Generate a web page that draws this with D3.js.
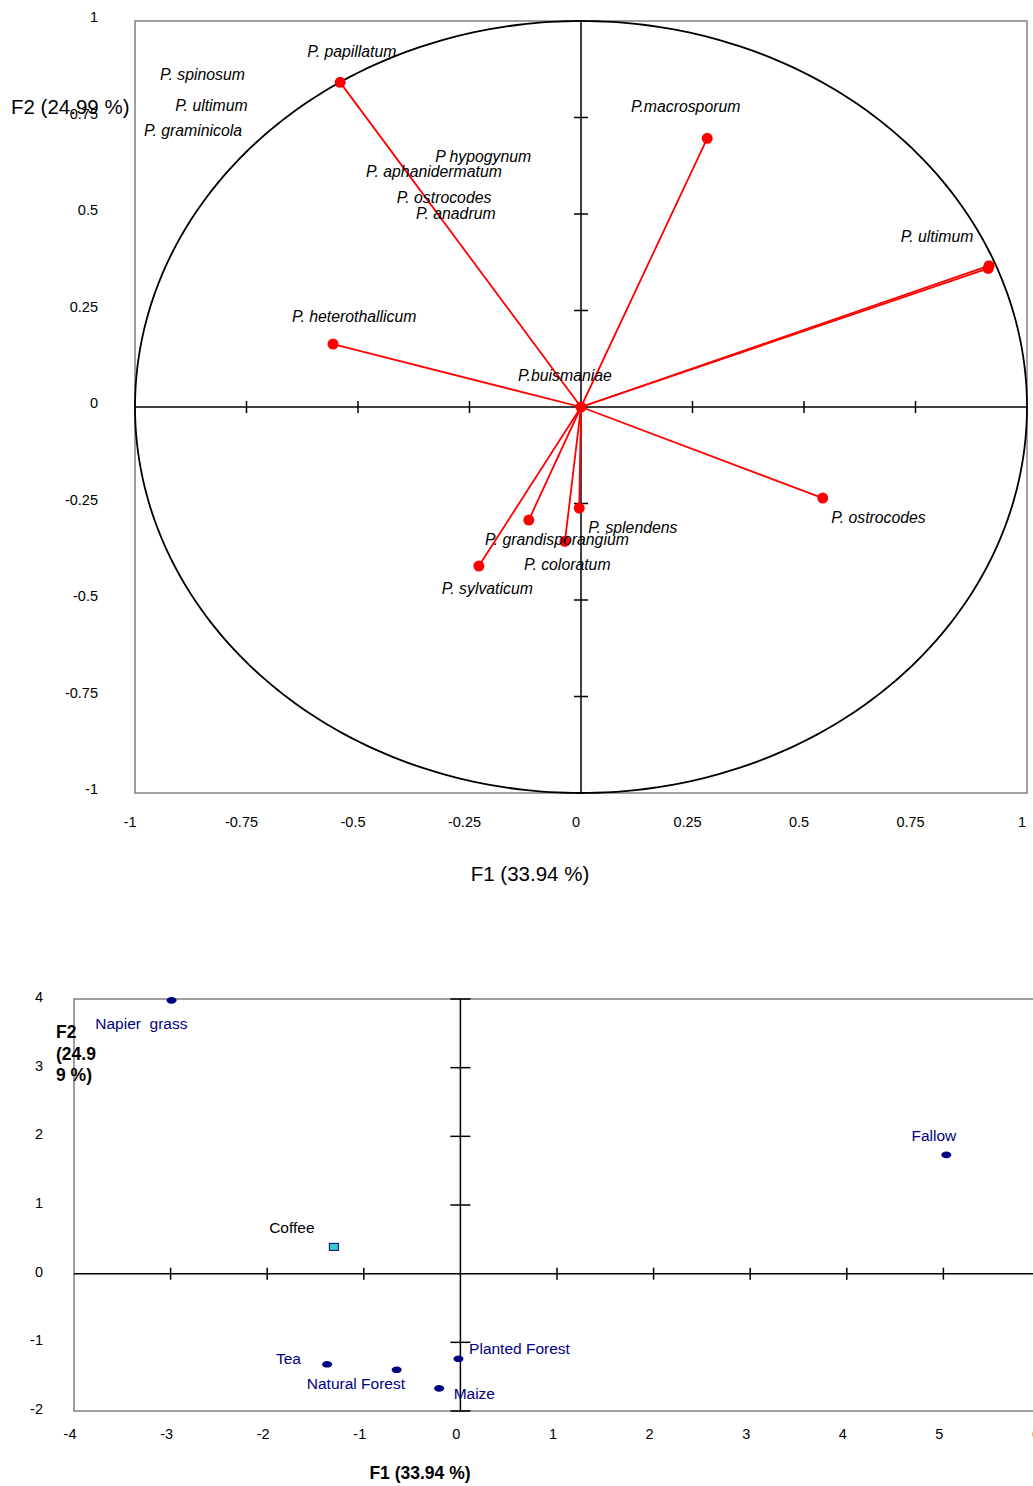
<!DOCTYPE html>
<html><head><meta charset="utf-8">
<script src="https://cdn.jsdelivr.net/npm/d3@7"></script>
<style>body{margin:0;background:#fff}svg{display:block;font-family:"Liberation Sans",Arial,sans-serif}</style>
</head><body>
<script>
// ---- Top chart: variables (correlation circle) ----
const vecNames = ["P. papillatum","P.macrosporum","P. ultimum","P. ultimum b","P. heterothallicum","P. ostrocodes","P. splendens","P. grandisporangium","P. coloratum","P. sylvaticum","P.buismaniae"];
const vecF1 = [-0.540, 0.283, 0.915, 0.913, -0.556, 0.542, -0.004, -0.117, -0.036, -0.229, 0.0];
const vecF2 = [0.841, 0.696, 0.366, 0.359, 0.163, -0.236, -0.262, -0.293, -0.348, -0.412, 0.0];
const varLabels = ["P. papillatum","P. spinosum","P. ultimum","P. graminicola","P.macrosporum","P hypogynum","P. aphanidermatum","P. ostrocodes","P. anadrum","P. ultimum","P. heterothallicum","P.buismaniae","P. ostrocodes","P. splendens","P. grandisporangium","P. coloratum","P. sylvaticum"];
const varLabelF1 = [-0.614,-0.944,-0.910,-0.980,0.112,-0.327,-0.482,-0.413,-0.370,0.717,-0.648,-0.141,0.561,0.016,-0.215,-0.128,-0.312];
const varLabelF2 = [0.908,0.846,0.768,0.701,0.763,0.634,0.595,0.528,0.486,0.427,0.220,0.067,-0.300,-0.326,-0.357,-0.422,-0.484];
const topTicks = [-1,-0.75,-0.5,-0.25,0,0.25,0.5,0.75,1];
const topTickLabels = ["-1","-0.75","-0.5","-0.25","0","0.25","0.5","0.75","1"];

// ---- Bottom chart: observations ----
const siteNames = ["Napier  grass","Fallow","Coffee","Tea","Natural Forest","Planted Forest","Maize"];
const siteF1 = [-2.99, 5.03, -1.31, -1.38, -0.66, -0.02, -0.22];
const siteF2 = [3.98, 1.73, 0.39, -1.32, -1.40, -1.24, -1.67];
const siteLabelF1 = [-3.78, 4.67, -1.98, -1.91, -1.59, 0.09, -0.07];
const siteLabelF2 = [3.57, 1.93, 0.59, -1.31, -1.68, -1.17, -1.82];
const botXTicks = [-4,-3,-2,-1,0,1,2,3,4,5,6];
const botYTicks = [-2,-1,0,1,2,3,4];

const svg = d3.select("body").append("svg").attr("width",1033).attr("height",1486);

// ===== Top chart =====
const x1 = d3.scaleLinear().domain([-1,1]).range([135,1027]);
const y1 = d3.scaleLinear().domain([-1,1]).range([793,21]);
const g1 = svg.append("g");
g1.append("rect").attr("x",x1(-1)).attr("y",y1(1)).attr("width",x1(1)-x1(-1)).attr("height",y1(-1)-y1(1))
  .attr("fill","none").attr("stroke","#808080").attr("stroke-width",1.5);
// unit circle
const circ = d3.range(0,361,1).map(a=>[Math.cos(a*Math.PI/180), Math.sin(a*Math.PI/180)]);
g1.append("path").attr("d", d3.line().x(d=>x1(d[0])).y(d=>y1(d[1]))(circ))
  .attr("fill","none").attr("stroke","#000").attr("stroke-width",1.8);
// axes through origin
g1.append("line").attr("x1",x1(-1)).attr("x2",x1(1)).attr("y1",y1(0)).attr("y2",y1(0)).attr("stroke","#000").attr("stroke-width",1.5);
g1.append("line").attr("x1",x1(0)).attr("x2",x1(0)).attr("y1",y1(1)).attr("y2",y1(-1)).attr("stroke","#000").attr("stroke-width",1.5);
topTicks.filter(t=>Math.abs(t)<1 && t!==0).forEach(t=>{
  g1.append("line").attr("x1",x1(t)).attr("x2",x1(t)).attr("y1",y1(0)-6).attr("y2",y1(0)+6).attr("stroke","#000").attr("stroke-width",1.5);
  g1.append("line").attr("x1",x1(0)-7).attr("x2",x1(0)+7).attr("y1",y1(t)).attr("y2",y1(t)).attr("stroke","#000").attr("stroke-width",1.5);
});
// tick labels
topTicks.forEach((t,i)=>{
  g1.append("text").attr("x",x1(t)-5).attr("y",827).attr("text-anchor","middle").attr("font-size",14.5).attr("fill","#000").text(topTickLabels[i]);
  g1.append("text").attr("x",98).attr("y",y1(t)+1).attr("text-anchor","end").attr("font-size",14.5).attr("fill","#000").text(topTickLabels[i]);
});
g1.append("text").attr("x",11).attr("y",114).attr("font-size",20.5).attr("fill","#000").text("F2 (24.99 %)");
g1.append("text").attr("x",530).attr("y",881).attr("text-anchor","middle").attr("font-size",20.5).attr("fill","#000").text("F1 (33.94 %)");
// vectors
vecNames.forEach((n,i)=>{
  g1.append("line").attr("x1",x1(0)).attr("y1",y1(0)).attr("x2",x1(vecF1[i])).attr("y2",y1(vecF2[i]))
    .attr("stroke","#ff0000").attr("stroke-width",1.8);
});
vecNames.forEach((n,i)=>{
  g1.append("circle").attr("cx",x1(vecF1[i])).attr("cy",y1(vecF2[i])).attr("r",5.5).attr("fill","#ff0000");
});
varLabels.forEach((t,i)=>{
  g1.append("text").attr("x",x1(varLabelF1[i])).attr("y",y1(varLabelF2[i])).attr("font-size",15.8)
    .attr("font-style","italic").attr("fill","#000").text(t);
});

// ===== Bottom chart =====
const x2 = d3.scaleLinear().domain([-4,6]).range([74,74+10*96.6]);
const y2 = d3.scaleLinear().domain([-2,4]).range([1411,999]);
const g2 = svg.append("g");
g2.append("rect").attr("x",x2(-4)).attr("y",y2(4)).attr("width",x2(6)-x2(-4)).attr("height",y2(-2)-y2(4))
  .attr("fill","none").attr("stroke","#808080").attr("stroke-width",1.5);
g2.append("line").attr("x1",x2(-4)).attr("x2",x2(6)).attr("y1",y2(0)).attr("y2",y2(0)).attr("stroke","#000").attr("stroke-width",1.5);
g2.append("line").attr("x1",x2(0)).attr("x2",x2(0)).attr("y1",y2(4)).attr("y2",y2(-2)).attr("stroke","#000").attr("stroke-width",1.5);
botXTicks.filter(t=>t>-4 && t<6 && t!==0).forEach(t=>{
  g2.append("line").attr("x1",x2(t)).attr("x2",x2(t)).attr("y1",y2(0)-6).attr("y2",y2(0)+6).attr("stroke","#000").attr("stroke-width",1.5);
});
botYTicks.forEach(t=>{
  if(t===0) return;
  g2.append("line").attr("x1",x2(0)-10).attr("x2",x2(0)+10).attr("y1",y2(t)).attr("y2",y2(t)).attr("stroke","#000").attr("stroke-width",1.5);
});
botXTicks.forEach(t=>{
  g2.append("text").attr("x",x2(t)-4).attr("y",1439).attr("text-anchor","middle").attr("font-size",14.5).attr("fill","#000").text(t);
});
botYTicks.forEach(t=>{
  g2.append("text").attr("x",43).attr("y",y2(t)+3).attr("text-anchor","end").attr("font-size",14.5).attr("fill","#000").text(t);
});
const f2 = g2.append("text").attr("x",56).attr("font-size",17.5).attr("font-weight","bold").attr("fill","#000");
["F2","(24.9","9 %)"].forEach((s,i)=>f2.append("tspan").attr("x",56).attr("y",1038+i*21.5).text(s));
g2.append("text").attr("x",420).attr("y",1479).attr("text-anchor","middle").attr("font-size",17.5).attr("font-weight","bold").attr("fill","#000").text("F1 (33.94 %)");
siteNames.forEach((n,i)=>{
  if(n==="Coffee"){
    g2.append("rect").attr("x",x2(siteF1[i])-4.5).attr("y",y2(siteF2[i])-3.5).attr("width",9).attr("height",7)
      .attr("fill","#33cccc").attr("stroke","#000080").attr("stroke-width",1);
  } else {
    g2.append("ellipse").attr("cx",x2(siteF1[i])).attr("cy",y2(siteF2[i])).attr("rx",5).attr("ry",3.3).attr("fill","#000080");
  }
  g2.append("text").attr("x",x2(siteLabelF1[i])).attr("y",y2(siteLabelF2[i])).attr("font-size",15.5)
    .attr("fill", n==="Coffee" ? "#000" : "#000080").style("white-space","pre").text(n);
});
</script>
</body></html>
